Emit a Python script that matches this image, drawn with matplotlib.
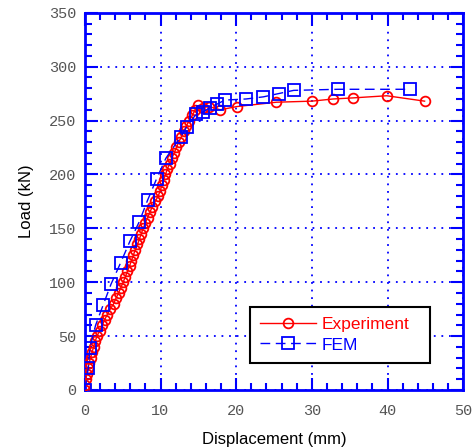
import numpy as np
import matplotlib
matplotlib.use("Agg")
from matplotlib import pyplot as plt
from matplotlib.ticker import MultipleLocator

# experiment (displacement mm, load kN)
exp_disp = [0, 0.05, 0.15, 0.25, 0.4, 0.55, 0.75, 0.95, 1.15, 1.35, 1.6, 1.95, 2.3, 2.6,
            2.95, 3.35, 3.8, 4.1, 4.45, 4.75, 5.05, 5.35, 5.6, 5.9, 6.15, 6.4, 6.65, 6.95,
            7.2, 7.45, 7.7, 8.0, 8.3, 8.6, 8.9, 9.3, 9.7, 9.95, 10.2, 10.4, 10.65, 10.9,
            11.2, 11.5, 11.8, 12.1, 12.4, 12.75, 13.1, 13.4, 13.8, 14.2, 14.6, 15.0,
            15.6, 16.4, 17.9, 20.1, 25.3, 30.0, 32.8, 35.4, 39.9, 44.9]
exp_load = [0, 5, 10, 15, 20, 25, 30, 35, 40, 45, 50, 55, 60, 65,
            70, 75, 80, 85, 90, 95, 100, 105, 110, 115, 120, 125, 130, 135,
            140, 145, 150, 155, 160, 165, 170, 175, 180, 185, 190, 195, 200, 205,
            210, 215, 220, 225, 230, 235, 240, 245, 250, 255, 260, 264,
            262, 263, 260, 263, 267, 268, 270, 271, 273, 268]

# FEM
fem_disp = [0, 0.44, 0.66, 1.41, 2.42, 3.44, 4.72, 5.95, 7.18, 8.28, 9.48, 10.7,
            12.66, 13.45, 14.7, 15.65, 16.5, 17.4, 18.5, 21.3, 23.6, 25.6, 27.6, 33.5, 43.0]
fem_load = [0, 20, 39, 60, 79, 98, 118, 138, 156, 176, 196, 215,
            235, 244, 256, 258, 262, 265, 269, 270, 272, 275, 278, 279, 279]

fig = plt.figure(figsize=(4.77, 4.48), dpi=100)
ax = fig.add_axes([0.178, 0.1295, 0.793, 0.842])

ax.plot(exp_disp, exp_load, color='red', lw=1, marker='o', ms=7, mfc='none',
        mec='red', mew=1.3, label='Experiment', zorder=3)
ax.plot(fem_disp, fem_load, color='blue', lw=1, ls=(0, (7, 4)), marker='s', ms=8.5,
        mfc='none', mec='blue', mew=1.3, label='FEM', zorder=4)

ax.set_xlim(0, 50)
ax.set_ylim(0, 350)
ax.xaxis.set_major_locator(MultipleLocator(10))
ax.xaxis.set_minor_locator(MultipleLocator(2))
ax.yaxis.set_major_locator(MultipleLocator(50))
ax.yaxis.set_minor_locator(MultipleLocator(10))

ax.grid(True, which='major', color='blue', ls=(0, (1, 3.2)), lw=1.3)
for s in ax.spines.values():
    s.set_color('blue')
    s.set_linewidth(2)
ax.tick_params(which='both', direction='in', color='blue', top=True, right=True,
               labelcolor='#555555')
ax.tick_params(which='major', length=9, width=1.5)
ax.tick_params(which='minor', length=5, width=1.5)
ax.tick_params(axis='x', pad=10)
ax.tick_params(axis='y', pad=6)
for lab in ax.get_xticklabels() + ax.get_yticklabels():
    lab.set_family('Liberation Mono')
    lab.set_fontsize(11)

ax.set_xlabel('Displacement (mm)', family='Liberation Sans', fontsize=12, labelpad=10)
ax.set_ylabel('Load (kN)', family='Liberation Sans', fontsize=12, labelpad=11)

leg = ax.legend(loc='lower left', bbox_to_anchor=(0.4365, 0.0716, 0.476, 0.151),
                mode='expand', borderaxespad=0, fancybox=False, edgecolor='black',
                framealpha=1, prop={'family': 'Liberation Sans', 'size': 12.5},
                handlelength=3.2, handletextpad=0.3, borderpad=0.6, labelspacing=0.3)
leg.get_frame().set_linewidth(1.5)
for t, c in zip(leg.get_texts(), ['red', 'blue']):
    t.set_color(c)

fig.savefig('out.png', dpi=100)
